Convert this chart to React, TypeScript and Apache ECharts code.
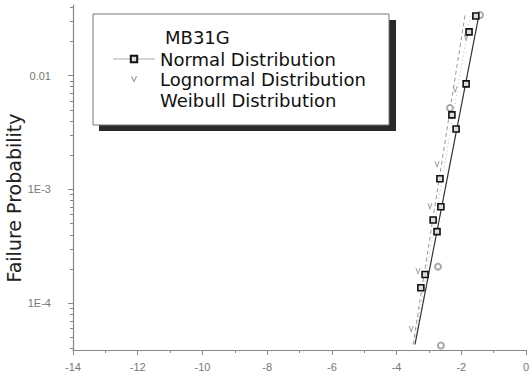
import React, { useEffect, useRef } from "react";
import * as echarts from "echarts";

// ---- data ----
const xTickLabels = ["-14", "-12", "-10", "-8", "-6", "-4", "-2", "0"];
const yTickValues = [1e-4, 1e-3, 1e-2];
const yTickLabels = ["1E-4", "1E-3", "0.01"];

const normalX = [-1.55, -1.76, -1.85, -2.29, -2.16, -2.66, -2.63, -2.87, -2.75, -3.12, -3.25];
const normalP = [0.0334, 0.0242, 0.00845, 0.00452, 0.0034, 0.00124, 0.000705, 0.00054, 0.000426, 0.000179, 0.000137];

const lognormalX = [-1.85, -2.19, -2.75, -2.97, -3.34, -3.55];
const lognormalP = [0.0214, 0.0075, 0.00165, 0.000705, 0.00019, 0.000059];

const weibullX = [-1.42, -2.35, -2.72, -2.63];
const weibullP = [0.0341, 0.0052, 0.00021, 0.0000426];

const normalFitX = [-3.43, -1.45];
const normalFitP = [0.0000435, 0.0347];
const lognormalFitX = [-3.49, -1.88];
const lognormalFitP = [0.0000435, 0.0347];
const weibullFitX = [-3.46, -1.72];
const weibullFitP = [0.0000435, 0.0347];

const legendTitle = "MB31G";
const seriesNames = ["Normal Distribution", "Lognormal Distribution", "Weibull Distribution"];

const Y_MIN = -4.41;
const Y_MAX = -1.38;

const lg = (v: number) => Math.log10(v);
const pts = (xs: number[], ps: number[]) => xs.map((x, i) => [x, lg(ps[i])]);

const minorTicks: number[] = [];
for (let e = -5; e <= -2; e++) {
  for (let k = 2; k <= 9; k++) {
    const v = lg(k * Math.pow(10, e));
    if (v > Y_MIN && v < Y_MAX) minorTicks.push(v);
  }
}

const FONT = "DejaVu Sans";

export default function App() {
  const ref = useRef<HTMLDivElement>(null);
  useEffect(() => {
    if (!ref.current) return;
    const chart = echarts.init(ref.current, undefined, { renderer: "svg" });
    const axisGray = "#888";
    const gridPos = { left: 73, right: 5, top: 5, bottom: 31, containLabel: false, outerBoundsMode: "none" };
    chart.setOption({
      animation: false,
      backgroundColor: "#fff",
      grid: [gridPos, { ...gridPos }],
      xAxis: [
        {
          type: "value",
          gridIndex: 0,
          min: -14,
          max: 0,
          interval: 2,
          name: "Normalized Margin",
          nameLocation: "middle",
          nameGap: 33,
          nameTextStyle: { fontFamily: FONT, fontSize: 18, color: "#222" },
          axisLine: { show: true, onZero: false, lineStyle: { color: axisGray, width: 1.2 } },
          axisTick: { show: true, length: 5, lineStyle: { color: axisGray } },
          minorTick: { show: true, splitNumber: 2, length: 3, lineStyle: { color: axisGray } },
          splitLine: { show: false },
          axisLabel: {
            margin: 11,
            fontFamily: "Liberation Sans",
            fontSize: 11,
            color: "#777",
            formatter: (v: number) => xTickLabels[Math.round((v + 14) / 2)] ?? String(v),
          },
        },
        {
          type: "value",
          gridIndex: 1,
          min: -14,
          max: 0,
          show: false,
        },
      ],
      yAxis: [
        {
          type: "value",
          gridIndex: 0,
          min: Y_MIN,
          max: Y_MAX,
          position: "left",
          axisLine: { show: true, onZero: false, lineStyle: { color: axisGray, width: 1.2 } },
          axisTick: { show: true, length: 5, customValues: yTickValues.map(lg), lineStyle: { color: axisGray } },
          splitLine: { show: false },
          axisLabel: {
            margin: 22,
            customValues: yTickValues.map(lg),
            fontFamily: "Liberation Sans",
            fontSize: 11,
            color: "#777",
            formatter: (v: number) => {
              const i = yTickValues.findIndex((t) => Math.abs(lg(t) - v) < 1e-6);
              return i >= 0 ? yTickLabels[i] : "";
            },
          },
        },
        {
          type: "value",
          gridIndex: 1,
          min: Y_MIN,
          max: Y_MAX,
          position: "left",
          axisLine: { show: false, onZero: false },
          axisTick: { show: true, length: 3, customValues: minorTicks, lineStyle: { color: axisGray } },
          axisLabel: { show: false },
          splitLine: { show: false },
        },
      ],
      legend: {
        orient: "vertical",
        left: 112,
        top: 49,
        padding: 0,
        itemWidth: 42,
        itemHeight: 8,
        itemGap: 0.5,
        selectedMode: false,
        textStyle: { fontFamily: FONT, fontSize: 18, color: "#111", lineHeight: 20 },
        data: [
          { name: seriesNames[0], lineStyle: { opacity: 1, color: "#aaa", width: 1 } },
          { name: seriesNames[1], lineStyle: { opacity: 0 } },
          { name: seriesNames[2], lineStyle: { opacity: 0 }, itemStyle: { opacity: 0 } },
        ],
      },
      graphic: [
        { type: "rect", z: 0, shape: { x: 99, y: 20, width: 297, height: 111 }, style: { fill: "#2a2a2a" } },
        { type: "rect", z: 1, shape: { x: 93, y: 14, width: 296, height: 111 }, style: { fill: "#fff", stroke: "#777", lineWidth: 1 } },
        { type: "text", z: 10, x: 165, y: 37, style: { text: legendTitle, font: `18px "${FONT}"`, fill: "#111", textVerticalAlign: "middle" } },
        {
          type: "text",
          z: 10,
          x: 14,
          y: 198,
          rotation: Math.PI / 2,
          style: { text: "Failure Probability", font: `19px "${FONT}"`, fill: "#222", textAlign: "center", textVerticalAlign: "middle" },
        },
      ],
      series: [
        {
          name: "Normal Fit",
          type: "line",
          data: pts(normalFitX, normalFitP),
          symbol: "none",
          lineStyle: { color: "#333", width: 1.2 },
          z: 2,
        },
        {
          name: "Lognormal Fit",
          type: "line",
          data: pts(lognormalFitX, lognormalFitP),
          symbol: "none",
          lineStyle: { color: "#999", width: 1, type: [4, 3] },
          z: 1,
        },
        {
          name: "Weibull Fit",
          type: "line",
          data: pts(weibullFitX, weibullFitP),
          symbol: "none",
          lineStyle: { color: "#bbb", width: 1, type: [1, 3] },
          z: 1,
        },
        {
          name: seriesNames[0],
          type: "line",
          data: pts(normalX, normalP),
          symbol: "rect",
          symbolSize: 6,
          itemStyle: { color: "#ddd", borderColor: "#111", borderWidth: 1.6 },
          lineStyle: { opacity: 0 },
          z: 5,
        },
        {
          name: seriesNames[1],
          type: "line",
          data: pts(lognormalX, lognormalP),
          symbol: "path://M0,0 L1.2,0 L3,5 L4.8,0 L6,0 L3,8 Z",
          symbolSize: [5, 7],
          itemStyle: { color: "#999" },
          lineStyle: { opacity: 0 },
          z: 4,
        },
        {
          name: seriesNames[2],
          type: "line",
          data: pts(weibullX, weibullP),
          symbol: "emptyCircle",
          symbolSize: 6,
          itemStyle: { color: "#aaa", borderWidth: 1 },
          lineStyle: { opacity: 0 },
          z: 4,
        },
      ],
    });
    return () => chart.dispose();
  }, []);
  return <div ref={ref} style={{ width: 531, height: 381, position: "absolute", left: 0, top: 0 }} />;
}
